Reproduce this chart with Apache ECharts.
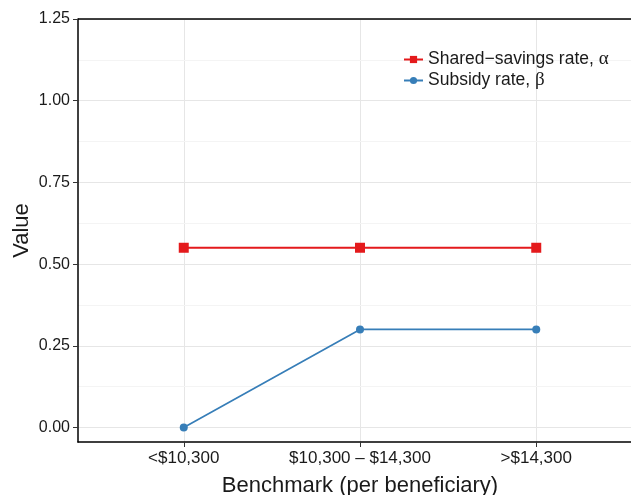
<!DOCTYPE html>
<html>
<head>
<meta charset="utf-8">
<script src="https://cdn.jsdelivr.net/npm/echarts@6/dist/echarts.min.js"></script>
<style>
  html, body { margin: 0; padding: 0; background: #fff; }
  #chart { width: 631px; height: 495px; }
</style>
</head>
<body>
<div id="chart"></div>
<script>
// Benchmark bands (per beneficiary)
const categories = ['<$10,300', '$10,300 \u2013 $14,300', '>$14,300'];
// Shared-savings rate (alpha) per band
const alphaValues = [0.55, 0.55, 0.55];
// Subsidy rate (beta) per band
const betaValues = [0, 0.3, 0.3];
// Y tick values and the lighter minor grid between them
const yTicks = [0, 0.25, 0.5, 0.75, 1.0, 1.25];
const yMinor = [0.125, 0.375, 0.625, 0.875, 1.125];

const xPos = categories.map((_, i) => i + 1);
const toPoints = vals => vals.map((v, i) => [xPos[i], v]);

const font = '"Liberation Sans", Arial, Helvetica, sans-serif';
const ink = '#1a1a1a';
const Y_MIN = -0.0444, Y_MAX = 1.25;
const chart = echarts.init(document.getElementById('chart'), null, { renderer: 'canvas' });

chart.setOption({
  animation: false,
  backgroundColor: '#fff',
  textStyle: { fontFamily: font },
  grid: { left: 78, top: 19, width: 564, height: 423, containLabel: false, outerBoundsMode: 'none' },
  legend: {
    left: 398, top: 45, orient: 'vertical', itemGap: 2,
    itemWidth: 19, itemHeight: 9,
    textStyle: {
      fontFamily: font, fontSize: 17.5, color: ink,
      rich: {
        n: { fontFamily: font, fontSize: 17.5, color: ink },
        g: { fontFamily: '"Liberation Serif", "DejaVu Serif", serif', fontSize: 19, color: ink }
      }
    },
    formatter: name => {
      const parts = name.split(', ');
      return '{n|' + parts[0] + ', }{g|' + parts[1] + '}';
    },
    data: ['Shared\u2212savings rate, \u03b1', 'Subsidy rate, \u03b2']
  },
  xAxis: {
    type: 'value', min: 0.4, max: 3.6,
    name: 'Benchmark (per beneficiary)', nameLocation: 'middle', nameGap: 33,
    nameMoveOverlap: false,
    nameTextStyle: { fontFamily: font, fontSize: 22, color: ink, verticalAlign: 'top' },
    axisLine: { show: true, onZero: false, lineStyle: { color: '#000', width: 1.5 } },
    axisTick: { show: true, length: 5, customValues: xPos, lineStyle: { color: '#333', width: 1 } },
    axisLabel: {
      customValues: xPos, fontSize: 17, color: ink, margin: 8,
      formatter: v => categories[Math.round(v) - 1] || ''
    },
    splitLine: { show: true, lineStyle: { color: '#e6e6e6', width: 1 } }
  },
  yAxis: [
    {
      type: 'value', min: Y_MIN, max: Y_MAX,
      name: 'Value', nameLocation: 'middle', nameGap: 45,
      nameMoveOverlap: false,
      nameTextStyle: { fontFamily: font, fontSize: 22, color: ink },
      axisLine: { show: true, onZero: false, lineStyle: { color: '#000', width: 1.5 } },
      axisTick: { show: true, length: 5, customValues: yTicks, lineStyle: { color: '#333', width: 1 } },
      axisLabel: {
        customValues: yTicks, fontSize: 16, color: ink, margin: 8,
        formatter: v => v.toFixed(2)
      },
      splitLine: { show: true, lineStyle: { color: '#e6e6e6', width: 1 } },
      z: 2
    },
    {
      // minor horizontal grid only
      type: 'value', min: Y_MIN, max: Y_MAX, position: 'left',
      axisLine: { show: false },
      axisTick: { show: false, customValues: yMinor },
      axisLabel: { show: false, customValues: yMinor },
      splitLine: { show: true, lineStyle: { color: '#f4f4f4', width: 1 } },
      z: 1
    }
  ],
  series: [
    {
      type: 'line', name: 'Shared\u2212savings rate, \u03b1',
      data: toPoints(alphaValues),
      symbol: 'rect', symbolSize: 10,
      itemStyle: { color: '#e41a1c' },
      lineStyle: { color: '#e41a1c', width: 2 },
      z: 3
    },
    {
      type: 'line', name: 'Subsidy rate, \u03b2',
      data: toPoints(betaValues),
      symbol: 'circle', symbolSize: 8,
      itemStyle: { color: '#377eb8' },
      lineStyle: { color: '#377eb8', width: 1.7 },
      z: 3
    }
  ],
  graphic: [{
    // top border of the panel
    type: 'line', z: 10,
    shape: { x1: 78, y1: 19, x2: 631, y2: 19 },
    style: { stroke: '#000', lineWidth: 1.5 }
  }]
});
</script>
</body>
</html>
